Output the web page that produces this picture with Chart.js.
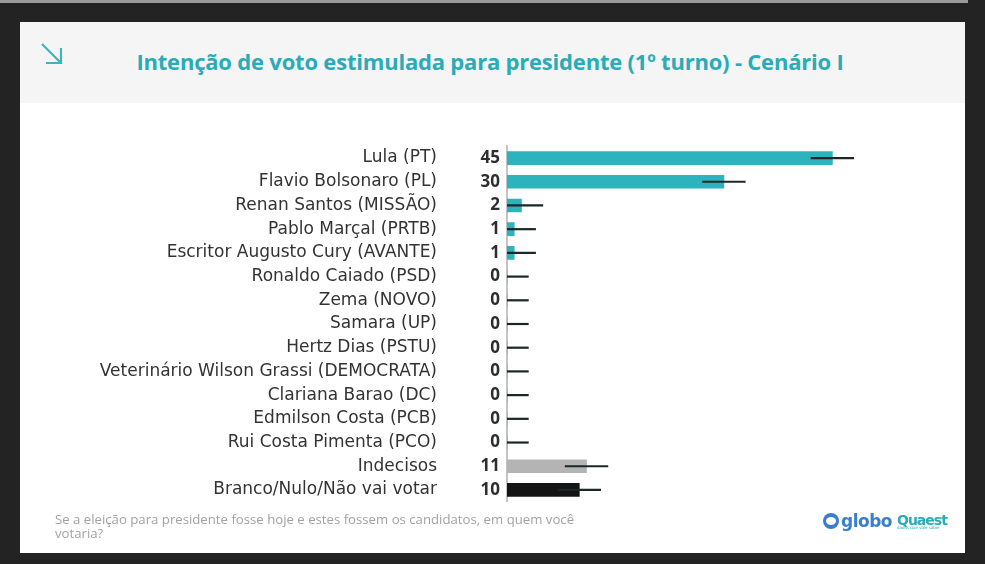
<!DOCTYPE html>
<html lang="pt-BR">
<head>
<meta charset="utf-8">
<script src="https://cdn.jsdelivr.net/npm/chart.js@4.4.1/dist/chart.umd.min.js"></script>
<style>
  html, body { margin: 0; padding: 0; }
  body { width: 985px; height: 564px; background: #232323; position: relative; overflow: hidden; font-family: "Open Sans", sans-serif; }
  #topline { position: absolute; left: 0; top: 0; width: 968px; height: 3px; background: #9a9a9a; }
  #panel { position: absolute; left: 20px; top: 22px; width: 945px; height: 531px; background: #fff; }
  #header { position: absolute; left: 0; top: 0; width: 945px; height: 81px; background: #f5f5f5; }
  #title { position: absolute; left: 0; top: 24px; width: 940px; text-align: center; color: #2aabb8; font-weight: 700; font-size: 22px; letter-spacing: -0.2px; }
  #arrow { position: absolute; left: 19px; top: 19px; }
  #myChart { position: absolute; left: 0; top: 107px; }
  #note { position: absolute; left: 35px; top: 490px; width: 545px; color: #a2a2a2; font-size: 13.2px; line-height: 14px; }
  #globo { position: absolute; left: 803px; top: 489px; color: #3a7fce; font-weight: 700; font-size: 17px; font-family: "DejaVu Sans", sans-serif; letter-spacing: -0.5px; }
  #globo span { display: inline-block; width: 16px; height: 16px; border-radius: 50%; background: #3a7fce; vertical-align: -2px; margin-right: 2px; position: relative; }
  #globo span::after { content: ""; position: absolute; left: 3px; top: 4px; width: 10px; height: 8px; border-radius: 50%; background: #fff; }
  #quaest { position: absolute; left: 877px; top: 490px; color: #2aabb8; font-weight: 700; font-size: 14px; font-family: "DejaVu Sans", sans-serif; letter-spacing: -1px; }
  #quaest small { display: block; font-size: 4px; letter-spacing: 0; margin-top: -3px; font-weight: 400; }
</style>
</head>
<body>
<div id="topline"></div>
<div id="panel">
  <div id="header">
    <svg id="arrow" width="26" height="26" viewBox="0 0 26 26">
      <path d="M3 3 L21 21 M7 22 L22 22 L22 7" stroke="#3fb3bf" stroke-width="2.2" fill="none"/>
    </svg>
    <div id="title">Intenção de voto estimulada para presidente (1º turno) - Cenário I</div>
  </div>
  <canvas id="myChart" width="863" height="390"></canvas>
  <div id="note">Se a eleição para presidente fosse hoje e estes fossem os candidatos, em quem você votaria?</div>
  <div id="globo"><span></span>globo</div>
  <div id="quaest">Quaest<small>dados que vale saber</small></div>
</div>

<script>
// ******************* data

let candidatos = [
  'Lula (PT)',
  'Flavio Bolsonaro (PL)',
  'Renan Santos (MISSÃO)',
  'Pablo Marçal (PRTB)',
  'Escritor Augusto Cury (AVANTE)',
  'Ronaldo Caiado (PSD)',
  'Zema (NOVO)',
  'Samara (UP)',
  'Hertz Dias (PSTU)',
  'Veterinário Wilson Grassi (DEMOCRATA)',
  'Clariana Barao (DC)',
  'Edmilson Costa (PCB)',
  'Rui Costa Pimenta (PCO)',
  'Indecisos',
  'Branco/Nulo/Não vai votar'
];
let votos = [45, 30, 2, 1, 1, 0, 0, 0, 0, 0, 0, 0, 0, 11, 10];
let margem = [3, 3, 3, 3, 3, 3, 3, 3, 3, 3, 3, 3, 3, 3, 3];
let cores = ['#2db3be', '#2db3be', '#2db3be', '#2db3be', '#2db3be', '#2db3be', '#2db3be',
  '#2db3be', '#2db3be', '#2db3be', '#2db3be', '#2db3be', '#2db3be', '#b4b4b4', '#141414'];

// ******************* plugins

// error bars (margin of error), clipped at zero
let errorBars = {
  id: 'errorBars',
  afterDatasetsDraw(chart){
    let c = chart.ctx;
    let xs = chart.scales.x;
    let meta = chart.getDatasetMeta(0);
    c.save();
    c.strokeStyle = '#1b2626';
    c.lineWidth = 2.2;
    for(let i = 0; i < votos.length; i++){
      let y = meta.data[i].y;
      let x1 = xs.getPixelForValue(Math.max(0, votos[i] - margem[i]));
      let x2 = xs.getPixelForValue(votos[i] + margem[i]);
      c.beginPath();
      c.moveTo(x1, y);
      c.lineTo(x2, y);
      c.stroke();
    }
    c.restore();
  }
};

// ******************* chart

let ctx = document.getElementById('myChart');

new Chart(ctx, {
  type: 'bar',
  data: {
    labels: candidatos,
    datasets: [{
      data: votos,
      backgroundColor: cores,
      barThickness: 13
    }]
  },
  options: {
    indexAxis: 'y',
    responsive: false,
    animation: false,
    layout: { padding: 0 },
    plugins: {
      legend: { display: false },
      tooltip: { enabled: false }
    },
    scales: {
      x: {
        display: false,
        min: 0,
        max: 52
      },
      // values next to the axis line
      y: {
        weight: 0,
        afterFit(scale){ scale.width = 63; },
        grid: { display: false, drawTicks: false },
        border: { display: true, color: '#c4c4c4', width: 2 },
        ticks: {
          autoSkip: false,
          padding: 7,
          color: '#2e2e2e',
          font: { family: 'Open Sans', size: 17, weight: 'bold' },
          callback: (v, i) => String(votos[i])
        }
      },
      // candidate names
      nomes: {
        type: 'category',
        labels: candidatos,
        position: 'left',
        weight: 1,
        afterFit(scale){ scale.width = 424; },
        grid: { display: false, drawTicks: false },
        border: { display: false },
        ticks: {
          autoSkip: false,
          padding: 7,
          color: '#333',
          font: { family: 'DejaVu Sans', size: 17 }
        }
      }
    }
  },
  plugins: [errorBars]
});
</script>
</body>
</html>
